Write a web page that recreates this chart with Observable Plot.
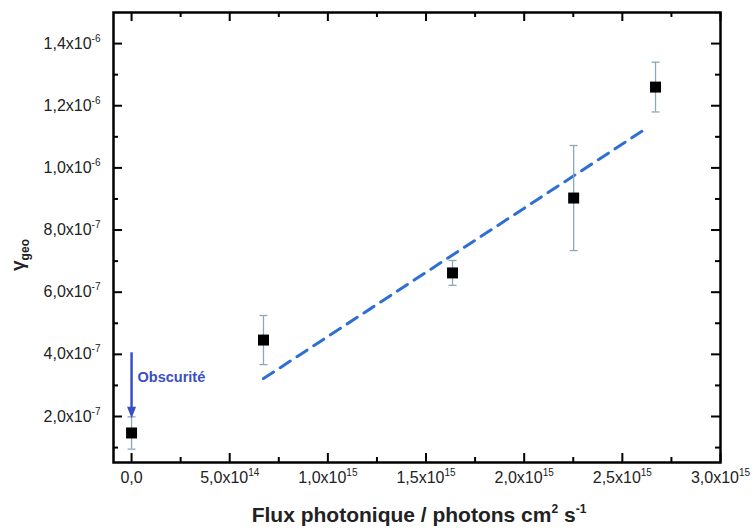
<!DOCTYPE html>
<html>
<head>
<meta charset="utf-8">
<script src="https://cdn.jsdelivr.net/npm/d3@7"></script>
<script src="https://cdn.jsdelivr.net/npm/@observablehq/plot@0.6"></script>
<style>
  html, body { margin: 0; padding: 0; background: #fff; }
  #chart { width: 753px; height: 532px; }
</style>
</head>
<body>
<div id="chart"></div>
<script>
// ---- data ----
const fluxX    = [0, 6.72e14, 1.635e15, 2.252e15, 2.669e15];
const gammaY   = [1.47e-7, 4.46e-7, 6.62e-7, 9.03e-7, 12.6e-7];
const gammaErr = [0.52e-7, 0.79e-7, 0.40e-7, 1.69e-7, 0.80e-7];

const fitX = [6.72e14, 2.629e15];
const fitY = [3.22e-7, 11.3e-7];

const darkX = [0];
const darkY = [4.05e-7, 1.94e-7];
const darkLabel = "Obscurité";
const darkLabelY = 3.25e-7;

const xMajor = [0, 5e14, 1e15, 1.5e15, 2e15, 2.5e15, 3e15];
const xMinor = [2.5e14, 7.5e14, 1.25e15, 1.75e15, 2.25e15, 2.75e15];
const xTickLabels = ["0,0", "5,0x10^14", "1,0x10^15", "1,5x10^15", "2,0x10^15", "2,5x10^15", "3,0x10^15"];

const yMajor = [2e-7, 4e-7, 6e-7, 8e-7, 1e-6, 1.2e-6, 1.4e-6];
const yMinor = [1e-7, 3e-7, 5e-7, 7e-7, 9e-7, 1.1e-6, 1.3e-6];
const yTickLabels = ["2,0x10^-7", "4,0x10^-7", "6,0x10^-7", "8,0x10^-7", "1,0x10^-6", "1,2x10^-6", "1,4x10^-6"];

const xDomain = [-9.2e13, 3.0e15];
const yDomain = [5.2e-8, 1.5e-6];

// ---- layout ----
const W = 753, H = 532;
const mL = 113, mR = 33, mT = 12, mB = 70;
const plotW = W - mL - mR, plotH = H - mT - mB;
const majLen = 9, minLen = 5;

const points = fluxX.map((x, i) => ({x, y: gammaY[i], lo: gammaY[i] - gammaErr[i], hi: gammaY[i] + gammaErr[i]}));
const fit = fitX.map((x, i) => ({x, y: fitY[i]}));

const capSymbol = {draw(ctx, size) { const r = Math.sqrt(size / Math.PI); ctx.moveTo(-r, 0); ctx.lineTo(r, 0); }};
const headSymbol = {draw(ctx, size) { const s = Math.sqrt(size / Math.PI); ctx.moveTo(0, 0); ctx.lineTo(-s * 0.5, -s * 1.3); ctx.lineTo(s * 0.5, -s * 1.3); ctx.closePath(); }};

const blue = "#3a4fc4";
const errColor = "#8aa9bb";

const fmtX = d => xTickLabels[xMajor.indexOf(d)];
const fmtY = d => yTickLabels[yMajor.findIndex(v => Math.abs(v - d) < 1e-12)];

const chart = Plot.plot({
  width: W, height: H,
  marginLeft: mL, marginRight: mR, marginTop: mT, marginBottom: mB,
  style: {fontFamily: "'Liberation Sans', Arial, sans-serif", background: "#fff"},
  x: {domain: xDomain, label: null},
  y: {domain: yDomain, label: null},
  marks: [
    // ticks (inward on all four sides)
    Plot.tickX(xMajor, {x: d => d, insetTop: plotH - majLen, stroke: "#000", strokeWidth: 2}),
    Plot.tickX(xMinor, {x: d => d, insetTop: plotH - minLen, stroke: "#000", strokeWidth: 2}),
    Plot.tickX(xMajor, {x: d => d, insetBottom: plotH - majLen, stroke: "#000", strokeWidth: 2}),
    Plot.tickX(xMinor, {x: d => d, insetBottom: plotH - minLen, stroke: "#000", strokeWidth: 2}),
    Plot.tickY(yMajor, {y: d => d, insetRight: plotW - majLen, stroke: "#000", strokeWidth: 2}),
    Plot.tickY(yMinor, {y: d => d, insetRight: plotW - minLen, stroke: "#000", strokeWidth: 2}),
    Plot.tickY(yMajor, {y: d => d, insetLeft: plotW - majLen, stroke: "#000", strokeWidth: 2}),
    Plot.tickY(yMinor, {y: d => d, insetLeft: plotW - minLen, stroke: "#000", strokeWidth: 2}),
    Plot.axisX({ticks: xMajor, tickSize: 0, tickPadding: 9, tickFormat: fmtX, fontSize: 16, fill: "#222", label: null}),
    Plot.axisY({ticks: yMajor, tickSize: 0, tickPadding: 13, tickFormat: fmtY, fontSize: 16, fill: "#222", label: null}),
    // fit line
    Plot.line(fit, {x: "x", y: "y", stroke: "#2e6fd4", strokeWidth: 3, strokeDasharray: "12,8"}),
    // error bars
    Plot.ruleX(points, {x: "x", y1: "lo", y2: "hi", stroke: errColor, strokeWidth: 1.3}),
    Plot.dot(points, {x: "x", y: "lo", r: 4, symbol: capSymbol, stroke: errColor, strokeWidth: 1.3, fill: "none"}),
    Plot.dot(points, {x: "x", y: "hi", r: 4, symbol: capSymbol, stroke: errColor, strokeWidth: 1.3, fill: "none"}),
    // points
    Plot.dot(points, {x: "x", y: "y", r: 6.2, symbol: "square", fill: "#000", stroke: "none"}),
    // dark arrow
    Plot.ruleX(darkX, {x: d => d, y1: darkY[0], y2: darkY[1], stroke: blue, strokeWidth: 2.5, insetBottom: 6}),
    Plot.dot(darkX, {x: d => d, y: darkY[1], r: 9, symbol: headSymbol, fill: blue, stroke: "none"}),
    Plot.text([darkLabel], {x: darkX[0], y: darkLabelY, text: d => d, textAnchor: "start", dx: 6, fill: blue, fontWeight: "bold", fontSize: 14.5}),
    Plot.frame({stroke: "#000", strokeWidth: 2.5})
  ]
});

// superscripts in tick labels
chart.querySelectorAll("text").forEach(t => {
  const s = t.textContent;
  if (!s.includes("^")) return;
  const [base, exp] = s.split("^");
  t.textContent = "";
  const ns = "http://www.w3.org/2000/svg";
  const a = document.createElementNS(ns, "tspan"); a.textContent = base; t.appendChild(a);
  const b = document.createElementNS(ns, "tspan"); b.textContent = exp;
  b.setAttribute("dy", "-7"); b.setAttribute("font-size", "10"); t.appendChild(b);
});

const svg = d3.select(chart);
// y label
const yl = svg.append("text")
  .attr("transform", "translate(24,255) rotate(-90)")
  .attr("text-anchor", "middle")
  .attr("fill", "#222")
  .attr("font-family", "'Liberation Sans', Arial, sans-serif")
  .attr("font-weight", "bold");
yl.append("tspan").attr("font-size", 19).text("γ");
yl.append("tspan").attr("font-size", 12).attr("dy", 5).text("geo");

// x label
const xl = svg.append("text")
  .attr("x", 419).attr("y", 522)
  .attr("text-anchor", "middle")
  .attr("fill", "#222")
  .attr("font-family", "'Liberation Sans', Arial, sans-serif")
  .attr("font-weight", "bold")
  .attr("font-size", 21);
xl.append("tspan").text("Flux photonique / photons cm");
xl.append("tspan").attr("font-size", 12).attr("dy", -9).text("2");
xl.append("tspan").attr("dy", 9).text(" s");
xl.append("tspan").attr("font-size", 12).attr("dy", -9).text("-1");

document.getElementById("chart").appendChild(chart);
</script>
</body>
</html>
